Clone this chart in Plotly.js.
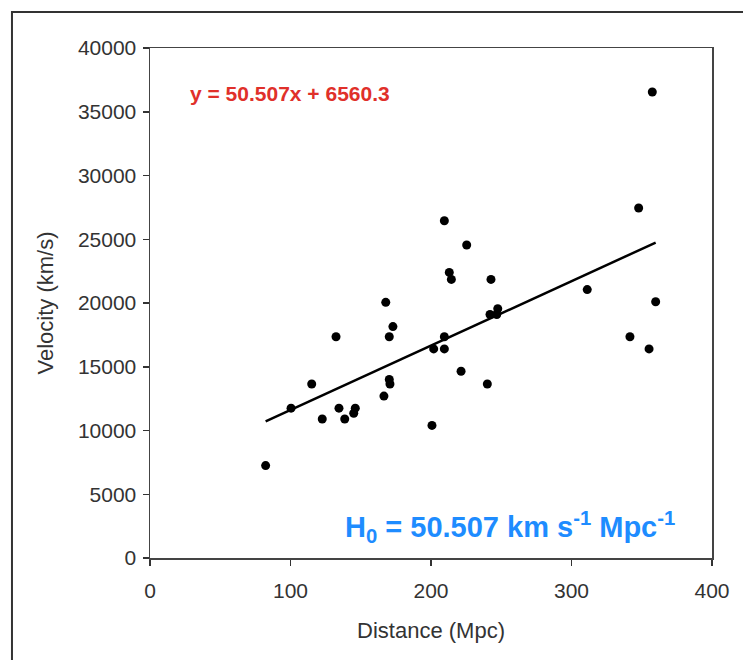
<!DOCTYPE html>
<html>
<head>
<meta charset="utf-8">
<script src="https://cdn.plot.ly/plotly-3.0.1.min.js"></script>
<style>
html,body{margin:0;padding:0;background:#fff;}
#chart{width:743px;height:660px;}
</style>
</head>
<body>
<div id="chart"></div>
<script>
// Distance (Mpc)
const distance = [82.3, 100.4, 115.1, 122.6, 132.4, 134.5, 138.6, 145.0, 146.1, 166.5,
  167.8, 170.3, 170.3, 170.8, 172.9, 200.7, 201.9, 209.5, 209.5, 209.5,
  213.0, 214.5, 221.4, 225.4, 240.1, 242.7, 242.0, 246.8, 247.5, 311.2,
  341.6, 347.8, 355.2, 357.5, 359.9];
// Velocity (km/s)
const velocity = [7250, 11750, 13650, 10900, 17350, 11750, 10900, 11350, 11750, 12700,
  20050, 17350, 14000, 13650, 18150, 10400, 16400, 26450, 17350, 16400,
  22400, 21850, 14650, 24550, 13650, 21850, 19100, 19100, 19550, 21050,
  17350, 27450, 16400, 36550, 20100];
// Trendline coefficients (as printed on the chart)
const slope = 50.507;
const intercept = 6560.3;
const xTicks = [0, 100, 200, 300, 400];
const yTicks = [0, 5000, 10000, 15000, 20000, 25000, 30000, 35000, 40000];

const xMin = Math.min(...distance);
const xMax = Math.max(...distance);
const lineX = [xMin, xMax];
const lineY = lineX.map(x => slope * x + intercept);

const font = "Liberation Sans, Arial, sans-serif";

const traces = [
  {
    x: distance, y: velocity, type: 'scatter', mode: 'markers',
    marker: {color: '#000', size: 9},
    showlegend: false, hoverinfo: 'skip'
  },
  {
    x: lineX, y: lineY, type: 'scatter', mode: 'lines',
    line: {color: '#000', width: 2.5},
    showlegend: false, hoverinfo: 'skip'
  }
];

const axisCommon = {
  showgrid: false, zeroline: false,
  showline: true, mirror: true, linecolor: '#444', linewidth: 1.5,
  ticks: 'outside', ticklen: 6, tickwidth: 1.5, tickcolor: '#333',
  tickfont: {family: font, size: 21, color: '#333'}
};

const layout = {
  width: 743, height: 660,
  margin: {l: 150, r: 31, t: 48, b: 102},
  paper_bgcolor: '#fff', plot_bgcolor: '#fff',
  font: {family: font},
  xaxis: Object.assign({}, axisCommon, {
    range: [0, 400], tickvals: xTicks, ticktext: xTicks.map(String),
    ticklabelstandoff: 7,
    title: {text: 'Distance (Mpc)', font: {family: font, size: 22, color: '#333'}, standoff: 22}
  }),
  yaxis: Object.assign({}, axisCommon, {
    range: [0, 40000], tickvals: yTicks, ticktext: yTicks.map(String),
    ticklabelstandoff: 2,
    title: {text: 'Velocity (km/s)', font: {family: font, size: 22, color: '#333'}, standoff: 18}
  }),
  annotations: [
    {
      xref: 'x', yref: 'y', x: 27, y: 36450, xanchor: 'left', yanchor: 'middle',
      text: 'y = 50.507x + 6560.3', showarrow: false,
      font: {family: font, size: 21, color: '#e0302a', weight: 'bold'}
    },
    {
      xref: 'x', yref: 'y', x: 137.5, y: 2400, xanchor: 'left', yanchor: 'middle',
      text: '<b>H<sub>0</sub> = 50.507 km s<sup>-1</sup> Mpc<sup>-1</sup></b>', showarrow: false,
      font: {family: font, size: 29, color: '#1e8cff'}
    }
  ],
  shapes: [
    {
      type: 'rect', xref: 'paper', yref: 'paper',
      x0: -0.2456, x1: 1.09, y0: -0.25, y1: 1.0706,
      line: {color: '#333', width: 2}, fillcolor: 'rgba(0,0,0,0)', layer: 'above'
    }
  ]
};

Plotly.newPlot('chart', traces, layout, {displayModeBar: false, staticPlot: true});
</script>
</body>
</html>
